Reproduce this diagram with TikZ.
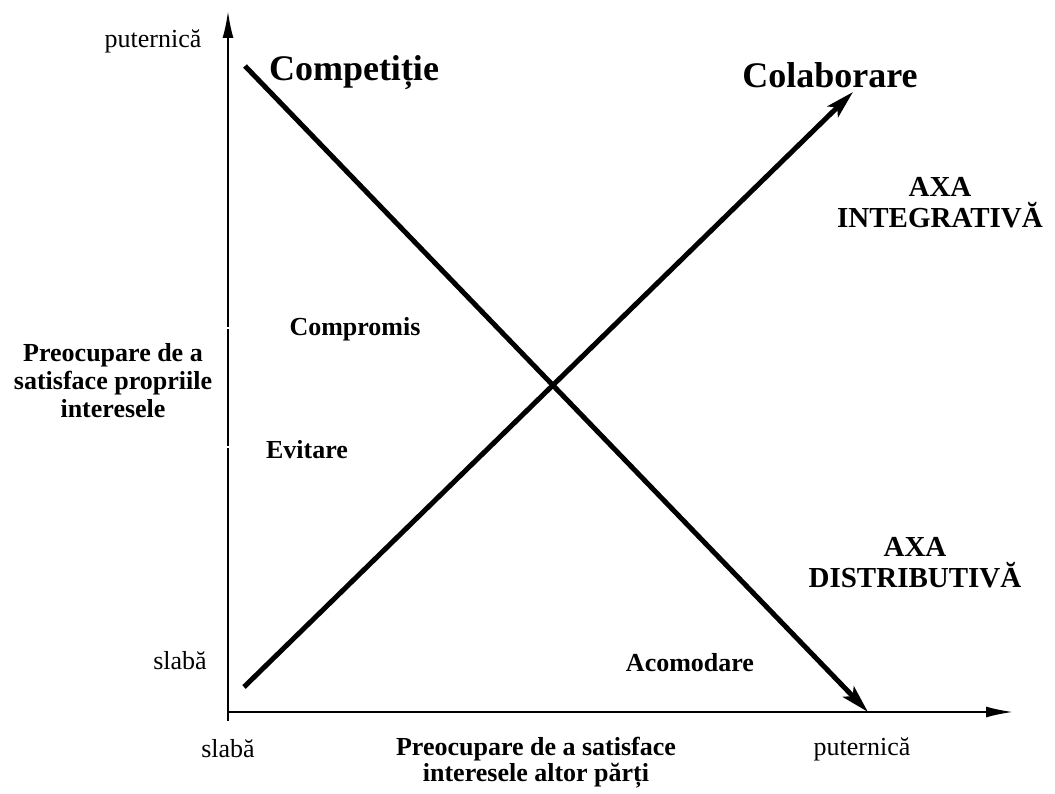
\documentclass[tikz,border=0pt]{standalone}
\usepackage{fontspec}
\setmainfont{Liberation Serif}
\usetikzlibrary{arrows.meta}
\begin{document}
\begin{tikzpicture}[x=1pt,y=-1pt,
  lbl/.style={font=\fontsize{26}{28}\selectfont, align=center, inner sep=0pt},
  blbl/.style={font=\fontsize{26}{28}\selectfont\bfseries, align=center, inner sep=0pt},
  axa/.style={font=\fontsize{29}{31}\selectfont\bfseries, align=center, inner sep=0pt},
  title/.style={font=\fontsize{36}{38}\selectfont\bfseries, inner sep=0pt},
  axis/.style={line width=2pt, -{Latex[length=27pt,width=11pt]}},
  diag/.style={line width=5pt, -{Stealth[length=28pt,width=15pt,inset=6pt]}}]
\useasboundingbox (0,0) rectangle (1055,794);
% axes
\coordinate (o) at (228,712);
\coordinate (vb) at (228,721);
\coordinate (vt) at (228,11);
\coordinate (ht) at (1013,712);
\draw[axis] (vb) -- (vt);
\draw[axis] (o) -- (ht);
\draw[white, line width=1.5pt] (224,328) -- (232,328) (224,447) -- (232,447);
% diagonals
\coordinate (c1) at (245,66);
\coordinate (c2) at (868,712);
\coordinate (k1) at (244,687);
\coordinate (k2) at (853,92);
\draw[diag] (c1) -- (c2);
\draw[diag] (k1) -- (k2);
% labels
\node[lbl] (pt) at (153,41) {puternică};
\node[lbl] (sl) at (180,661) {slabă};
\node[lbl] (sx) at (228,749) {slabă};
\node[lbl] (px) at (862,749) {puternică};
\node[title] (comp) at (354,73) {Competiție};
\node[title] (col) at (830,75) {Colaborare};
\node[axa] (ai) at (940,203) {AXA\\INTEGRATIVĂ};
\node[axa] (ad) at (915,563) {AXA\\DISTRIBUTIVĂ};
\node[blbl] (cm) at (355,329) {Compromis};
\node[blbl] (ev) at (307,450) {Evitare};
\node[blbl] (ac) at (690,663) {Acomodare};
\node[blbl] (yl) at (113,381) {Preocupare de a\\satisface propriile\\interesele};
\node[blbl, font=\fontsize{26}{26}\selectfont\bfseries] (xl) at (536,763) {Preocupare de a satisface\\interesele altor părți};
\end{tikzpicture}
\end{document}
